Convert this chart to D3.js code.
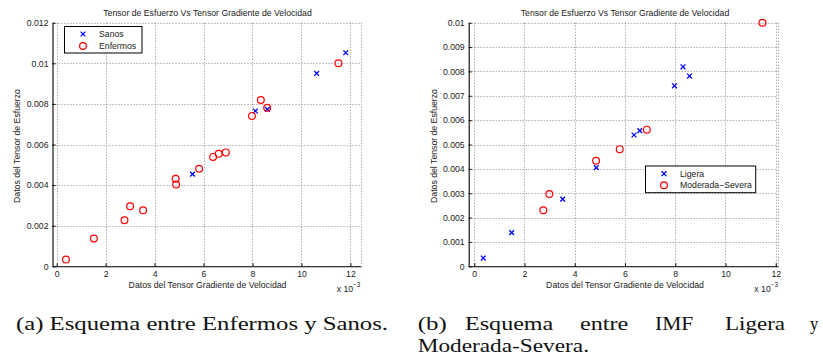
<!DOCTYPE html>
<html><head><meta charset="utf-8">
<script src="https://cdn.jsdelivr.net/npm/d3@7/dist/d3.min.js"></script>
<style>body{margin:0;background:#fff}svg{display:block}</style>
</head><body>
<svg id="c" width="823" height="362"></svg>
<script>
// ---- data (x values in units of 10^-3) ----
const sanosX = [5.55, 8.12, 8.61, 10.62, 11.81];
const sanosY = [0.00454, 0.00765, 0.00773, 0.0095, 0.01052];
const enfermosX = [0.38, 1.52, 2.77, 3.00, 3.53, 4.86, 4.88, 5.82, 6.39, 6.62, 6.91, 7.98, 8.34, 8.60, 11.51];
const enfermosY = [0.00033, 0.00137, 0.00227, 0.00296, 0.00276, 0.00431, 0.00403, 0.00480, 0.00539, 0.00554, 0.00561, 0.00741, 0.00819, 0.00781, 0.01000];
const ligeraX = [0.36, 1.49, 3.52, 4.86, 6.36, 6.59, 7.97, 8.31, 8.57];
const ligeraY = [0.00034, 0.00138, 0.00276, 0.00405, 0.00539, 0.00557, 0.00741, 0.00819, 0.00781];
const moderadaX = [2.75, 2.99, 4.85, 5.79, 6.87, 11.47];
const moderadaY = [0.00230, 0.00297, 0.00433, 0.00481, 0.00561, 0.01000];
const xTicks = [0, 2, 4, 6, 8, 10, 12];
const yTicksA = [0, 0.002, 0.004, 0.006, 0.008, 0.010, 0.012];
const yTickLabelsA = ["0", "0.002", "0.004", "0.006", "0.008", "0.01", "0.012"];
const yTicksB = [0, 0.001, 0.002, 0.003, 0.004, 0.005, 0.006, 0.007, 0.008, 0.009, 0.010];
const yTickLabelsB = ["0", "0.001", "0.002", "0.003", "0.004", "0.005", "0.006", "0.007", "0.008", "0.009", "0.01"];
const titleText = "Tensor de Esfuerzo Vs Tensor Gradiente de Velocidad";
const xLabelText = "Datos del Tensor Gradiente de Velocidad";
const yLabelText = "Datos del Tensor de Esfuerzo";
const legendA = ["Sanos", "Enfermos"];
const legendB = ["Ligera", "Moderada\u2212Severa"];

const svg = d3.select("#c");
const FONT = "'Liberation Sans', Arial, Helvetica, sans-serif";
const FS = 8.7;
const BLUE = "#0000ff", RED = "#ff0000";
const xMarker = "M-2.4,-2.4L2.4,2.4M-2.4,2.4L2.4,-2.4";

function panel(cfg) {
  const g = svg.append("g");
  const x = d3.scaleLinear().domain(cfg.xDomain).range(cfg.xRange);
  const y = d3.scaleLinear().domain(cfg.yDomain).range([266.3, 22.7]);
  const [xl, xr] = cfg.xRange, yb = 266.3, yt = 22.7;
  // grid
  const grid = g.append("g").attr("stroke", "#8a8a8a").attr("stroke-width", 1).attr("stroke-dasharray", "1,2").attr("fill", "none");
  grid.selectAll(".gx").data(xTicks).join("line")
    .attr("x1", d => Math.round(x(d)) + 0.5).attr("x2", d => Math.round(x(d)) + 0.5)
    .attr("y1", yt).attr("y2", yb);
  grid.append("line").attr("x1", Math.round(xr) + 0.5).attr("x2", Math.round(xr) + 0.5).attr("y1", yt).attr("y2", yb);
  grid.selectAll(".gy").data(cfg.yTicks).join("line")
    .attr("y1", d => Math.round(y(d)) + 0.5).attr("y2", d => Math.round(y(d)) + 0.5)
    .attr("x1", xl).attr("x2", xr);
  // axes
  const ax = g.append("g").attr("transform", `translate(0,${yb})`)
    .call(d3.axisBottom(x).tickValues(xTicks).tickFormat(d3.format("d")).tickSize(-3).tickSizeOuter(0).tickPadding(4.5));
  const ay = g.append("g").attr("transform", `translate(${xl},0)`)
    .call(d3.axisLeft(y).tickValues(cfg.yTicks).tickFormat((d, i) => cfg.yLabels[i]).tickSize(-3).tickSizeOuter(0).tickPadding(4));
  [ax, ay].forEach(a => {
    a.selectAll("text").attr("font-family", FONT).attr("font-size", FS).attr("fill", "#1a1a1a");
    a.select(".domain").attr("stroke", "#000").attr("stroke-width", 1.1);
    a.selectAll(".tick line").attr("stroke", "#000");
    a.attr("font-family", null).attr("font-size", null);
  });
  // title & labels
  g.append("text").attr("x", cfg.titleX).attr("y", 16).attr("text-anchor", "middle")
    .attr("font-family", FONT).attr("font-size", FS).attr("fill", "#1a1a1a").text(titleText);
  g.append("text").attr("x", cfg.titleX).attr("y", 288).attr("text-anchor", "middle")
    .attr("font-family", FONT).attr("font-size", FS).attr("fill", "#1a1a1a").text(xLabelText);
  g.append("text").attr("transform", `translate(${cfg.yLabX},146) rotate(-90)`).attr("dy", "0.35em")
    .attr("text-anchor", "middle").attr("font-family", FONT).attr("font-size", FS).attr("fill", "#1a1a1a").text(yLabelText);
  const exp = g.append("text").attr("x", cfg.expX).attr("y", 291.7).attr("font-family", FONT).attr("font-size", FS).attr("fill", "#1a1a1a");
  exp.append("tspan").text("x 10");
  exp.append("tspan").attr("dy", -4.5).attr("font-size", 6.3).text("\u22123");
  // marks
  g.append("g").selectAll("path").data(cfg.blueX.map((v, i) => [v, cfg.blueY[i]])).join("path")
    .attr("d", xMarker).attr("transform", d => `translate(${x(d[0])},${y(d[1])})`)
    .attr("stroke", BLUE).attr("stroke-width", 1.3).attr("fill", "none");
  g.append("g").selectAll("circle").data(cfg.redX.map((v, i) => [v, cfg.redY[i]])).join("circle")
    .attr("cx", d => x(d[0])).attr("cy", d => y(d[1])).attr("r", 3.4)
    .attr("stroke", RED).attr("stroke-width", 1.2).attr("fill", "none");
  // legend
  const L = cfg.legend;
  const lg = g.append("g");
  lg.append("rect").attr("x", L.x0).attr("y", L.y0).attr("width", L.x1 - L.x0).attr("height", L.y1 - L.y0)
    .attr("fill", "#fff").attr("stroke", "#000").attr("stroke-width", 1);
  lg.append("path").attr("d", xMarker).attr("transform", `translate(${L.mx},${L.r1})`).attr("stroke", BLUE).attr("stroke-width", 1.3);
  lg.append("circle").attr("cx", L.mx).attr("cy", L.r2).attr("r", 3.4).attr("stroke", RED).attr("stroke-width", 1.2).attr("fill", "none");
  lg.selectAll("text").data(cfg.legendLabels).join("text")
    .attr("x", L.tx).attr("y", (d, i) => i ? L.r2 : L.r1).attr("dy", "0.35em")
    .attr("font-family", FONT).attr("font-size", FS).attr("fill", "#1a1a1a").text(d => d);
}

panel({
  xDomain: [-0.17, 12.42], xRange: [52.5, 360.7], yDomain: [0, 0.012], yTicks: yTicksA, yLabels: yTickLabelsA,
  titleX: 207.5, yLabX: 17.3, expX: 336.7,
  blueX: sanosX, blueY: sanosY, redX: enfermosX, redY: enfermosY,
  legend: {x0: 64.5, x1: 142, y0: 26.5, y1: 53, mx: 83, tx: 99, r1: 34, r2: 46}, legendLabels: legendA
});
panel({
  xDomain: [-0.22, 12.09], xRange: [468.7, 778], yDomain: [0, 0.010], yTicks: yTicksB, yLabels: yTickLabelsB,
  titleX: 625, yLabX: 434, expX: 754.3,
  blueX: ligeraX, blueY: ligeraY, redX: moderadaX, redY: moderadaY,
  legend: {x0: 645.5, x1: 755.7, y0: 166, y1: 192.7, mx: 664, tx: 680, r1: 173.7, r2: 185.3}, legendLabels: legendB
});

// ---- captions ----
const SERIF = "'Liberation Serif', 'Times New Roman', serif";
const capA = [{t: "(a) Esquema entre Enfermos y Sanos.", x: 16, w: 372, y: 330}];
const capB = [
  {t: "(b)", x: 417.7, w: 29, y: 330}, {t: "Esquema", x: 465, w: 88.3, y: 330},
  {t: "entre", x: 580, w: 48.3, y: 330}, {t: "IMF", x: 655, w: 38.3, y: 330},
  {t: "Ligera", x: 725, w: 60, y: 330}, {t: "y", x: 810, w: 8.3, y: 330},
  {t: "Moderada-Severa.", x: 417.7, w: 171.3, y: 352}
];
svg.append("g").selectAll("text").data(capA.concat(capB)).join("text")
  .attr("x", d => d.x).attr("y", d => d.y).attr("textLength", d => d.w).attr("lengthAdjust", "spacingAndGlyphs")
  .attr("font-family", SERIF).attr("font-size", 18).attr("fill", "#111").text(d => d.t);
</script>
</body></html>
